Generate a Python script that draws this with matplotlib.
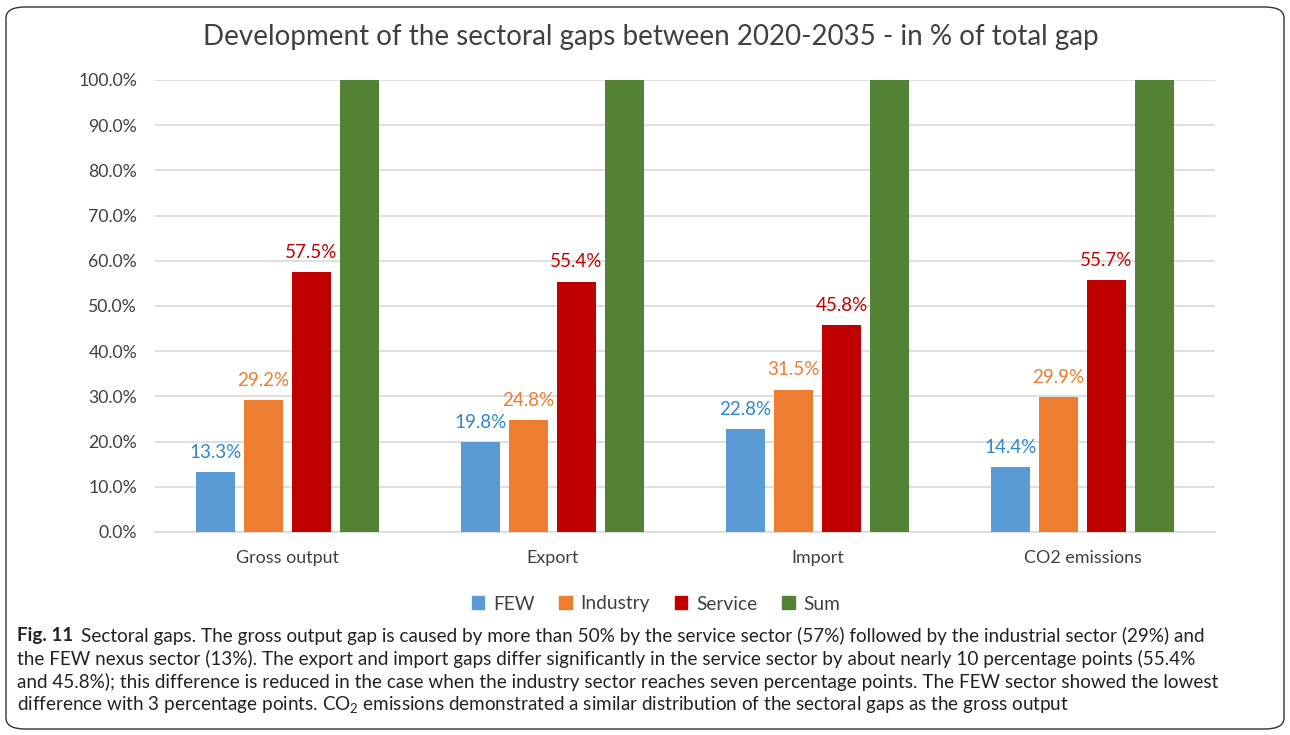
import matplotlib
matplotlib.use("Agg")
import matplotlib.pyplot as plt
import numpy as np
from matplotlib.patches import FancyBboxPatch

categories = ["Gross output", "Export", "Import", "CO2 emissions"]
series_names = ["FEW", "Industry", "Service", "Sum"]
few = [13.3, 19.8, 22.8, 14.4]
industry = [29.2, 24.8, 31.5, 29.9]
service = [57.5, 55.4, 45.8, 55.7]
total = [100.0, 100.0, 100.0, 100.0]
yticks = [0, 10, 20, 30, 40, 50, 60, 70, 80, 90, 100]

series = [few, industry, service, total]
colors = ["#5B9BD5", "#ED7D31", "#C00000", "#548235"]
label_colors = ["#2E86D0", "#ED7D31", "#C00000", None]

plt.rcParams['font.family'] = ['Lato', 'DejaVu Sans']
plt.rcParams['mathtext.fontset'] = 'custom'
plt.rcParams['mathtext.rm'] = 'Lato'

fig = plt.figure(figsize=(12.9, 7.35), dpi=100)
ax = fig.add_axes([0.1202, 0.2762, 0.8217, 0.615])

x = np.arange(len(categories))
width = 0.145
step = 0.181
for i, (vals, c) in enumerate(zip(series, colors)):
    pos = x + (i - 1.5) * step
    ax.bar(pos, vals, width=width, color=c, zorder=3)
    if label_colors[i]:
        for p, v in zip(pos, vals):
            ax.annotate(f"{v:.1f}%", (p, v), xytext=(0, 8), textcoords="offset points",
                        ha="center", va="bottom", color=label_colors[i], fontsize=13.5)

ax.set_xlim(-0.5, 3.5)
ax.set_ylim(0, 100)
ax.set_yticks(yticks)
ax.set_yticklabels([f"{t:.1f}%" for t in yticks], fontsize=12.7, color="#404040")
ax.set_xticks(x)
ax.set_xticklabels(categories, fontsize=12.9, color="#404040")
ax.tick_params(axis='both', length=0)
ax.tick_params(axis='y', pad=13)
ax.tick_params(axis='x', pad=13)
ax.grid(axis='y', color="#D9D9D9", linewidth=1.2, zorder=0)
for s in ["top", "right", "left"]:
    ax.spines[s].set_visible(False)
ax.spines["bottom"].set_color("#D9D9D9")
ax.spines["bottom"].set_linewidth(1.2)

fig.text(651 / 1290, 1 - 37 / 735, "Development of the sectoral gaps between 2020-2035 - in % of total gap",
         ha="center", va="center", fontsize=20, color="#404040")

handles = [plt.Rectangle((0, 0), 1, 1, color=c) for c in colors]
fig.legend(handles, series_names, loc="center", bbox_to_anchor=(656 / 1290, 1 - 604 / 735),
           ncol=4, frameon=False, fontsize=13.8, handlelength=0.65, handleheight=0.65,
           columnspacing=1.3, handletextpad=0.45, labelcolor="#404040")

box = FancyBboxPatch((6 / 1290, 6 / 735), 1278 / 1290, 722 / 735,
                     boxstyle="round,pad=0,rounding_size=0.015", transform=fig.transFigure,
                     facecolor="none", edgecolor="#333333", linewidth=1.0)
fig.patches.append(box)

cap_fs = 13.55
lines_y = [636, 659, 682, 705]
t0 = fig.text(17 / 1290, 1 - lines_y[0] / 735, "Fig. 11", fontsize=cap_fs, fontweight="bold",
              va="center", ha="left", color="#222222")
fig.canvas.draw()
bb = t0.get_window_extent(renderer=fig.canvas.get_renderer())
fig.text((bb.x1 + 8) / 1290, 1 - lines_y[0] / 735,
         "Sectoral gaps. The gross output gap is caused by more than 50% by the service sector (57%) followed by the industrial sector (29%) and",
         fontsize=cap_fs, va="center", ha="left", color="#222222")
rest = [
    "the FEW nexus sector (13%). The export and import gaps differ significantly in the service sector by about nearly 10 percentage points (55.4%",
    "and 45.8%); this difference is reduced in the case when the industry sector reaches seven percentage points. The FEW sector showed the lowest",
    "difference with 3 percentage points. CO$_2$ emissions demonstrated a similar distribution of the sectoral gaps as the gross output",
]
for y, t in zip(lines_y[1:], rest):
    fig.text(17 / 1290, 1 - y / 735, t, fontsize=cap_fs, va="center", ha="left", color="#222222")

fig.savefig("out.png", dpi=100)
